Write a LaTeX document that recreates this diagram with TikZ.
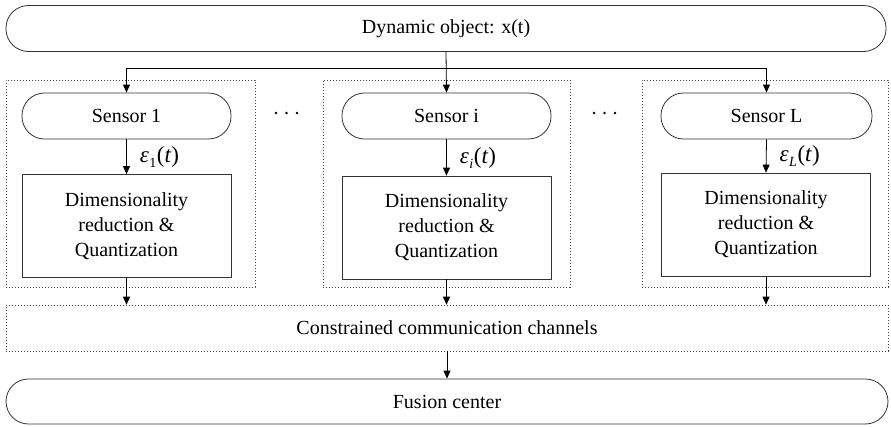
\documentclass[tikz,border=0pt]{standalone}
\usepackage{fontspec}
\setmainfont{Liberation Serif}
\usetikzlibrary{arrows.meta}

\tikzset{
  pill/.style={draw=black!80, line width=0.8pt, rounded corners=22.5pt,
    minimum height=46pt, inner sep=0pt, font=\fontsize{20}{24}\selectfont},
  procbox/.style={draw=black!80, line width=0.7pt, minimum width=209pt,
    minimum height=103pt, inner sep=0pt, align=center,
    font=\fontsize{20}{25}\selectfont},
  group/.style={draw=black!75, line width=0.6pt, dash pattern=on 1.2pt off 1.8pt,
    inner sep=0pt},
  flow/.style={draw=black, line width=0.8pt, -{Triangle[length=8pt,width=7pt]}},
  siglabel/.style={anchor=west, font=\fontsize{23}{25}\selectfont, inner sep=0pt},
  ellipsisdot/.style={circle, fill=black, inner sep=0pt, minimum size=2.6pt},
}

\newcommand{\sig}[1]{\textit{ε}\hspace{0.5pt}\raisebox{-5pt}{\fontsize{14}{14}\selectfont #1}\hspace{0.5pt}(\textit{t})}

\begin{document}
\begin{tikzpicture}[x=1pt, y=-1pt]
  \useasboundingbox (0,0) rectangle (891,426);

  % dotted groups and the channel band
  \node[group, minimum width=249pt, minimum height=207pt] (g1) at (130.5,183.5) {};
  \node[group, minimum width=247pt, minimum height=207pt] (gi) at (446.5,183.5) {};
  \node[group, minimum width=246pt, minimum height=207pt] (gL) at (765,183.5) {};
  \node[group, minimum width=882pt, minimum height=46pt,
        font=\fontsize{20}{24}\selectfont] (chan) at (447,328) {Constrained communication channels};

  % source and sink
  \node[pill, minimum width=880pt] (obj) at (446,28.5) {Dynamic object: x(t)};
  \node[pill, minimum width=882pt, minimum height=45pt] (fus) at (447,401.5) {Fusion center};

  % sensors
  \node[pill, minimum width=209pt] (s1) at (126.5,116) {Sensor 1};
  \node[pill, minimum width=209pt] (si) at (446.5,116) {Sensor i};
  \node[pill, minimum width=211pt] (sL) at (766.5,116) {Sensor L};

  % reduction / quantization blocks
  \node[procbox] (d1) at (126.5,226) {Dimensionality\\reduction \&\\Quantization};
  \node[procbox] (di) at (446.5,227.5) {Dimensionality\\reduction \&\\Quantization};
  \node[procbox, minimum width=209pt] (dL) at (766,224.5) {Dimensionality\\reduction \&\\Quantization};

  % ellipses between the groups
  \node[ellipsisdot] (e1a) at (276,113) {};
  \node[ellipsisdot] (e1b) at (286.5,113) {};
  \node[ellipsisdot] (e1c) at (297,113) {};
  \node[ellipsisdot] (e2a) at (594,113) {};
  \node[ellipsisdot] (e2b) at (604.5,113) {};
  \node[ellipsisdot] (e2c) at (615,113) {};

  % distribution of the object to the sensors
  \coordinate (split) at ([yshift=-16pt]obj.south);
  \draw[flow] (obj.south) -- (si.north);
  \draw[flow] (split) -| (s1.north);
  \draw[flow] (split) -| (sL.north);

  % sensor outputs
  \draw[flow] (s1.south) -- (d1.north) node[siglabel, pos=0.5, xshift=13pt] (l1) {\sig{1}};
  \draw[flow] (si.south) -- (di.north) node[siglabel, pos=0.5, xshift=13pt] (li) {\sig{\textit{i}}};
  \draw[flow] (sL.south) -- (dL.north) node[siglabel, pos=0.5, xshift=13pt] (lL) {\sig{\textit{L}}};

  % into the channels and on to the fusion center
  \draw[flow] (d1.south) -- (d1.south |- chan.north);
  \draw[flow] (di.south) -- (di.south |- chan.north);
  \draw[flow] (dL.south) -- (dL.south |- chan.north);
  \draw[flow] (chan.south) -- (fus.north);
\end{tikzpicture}
\end{document}
